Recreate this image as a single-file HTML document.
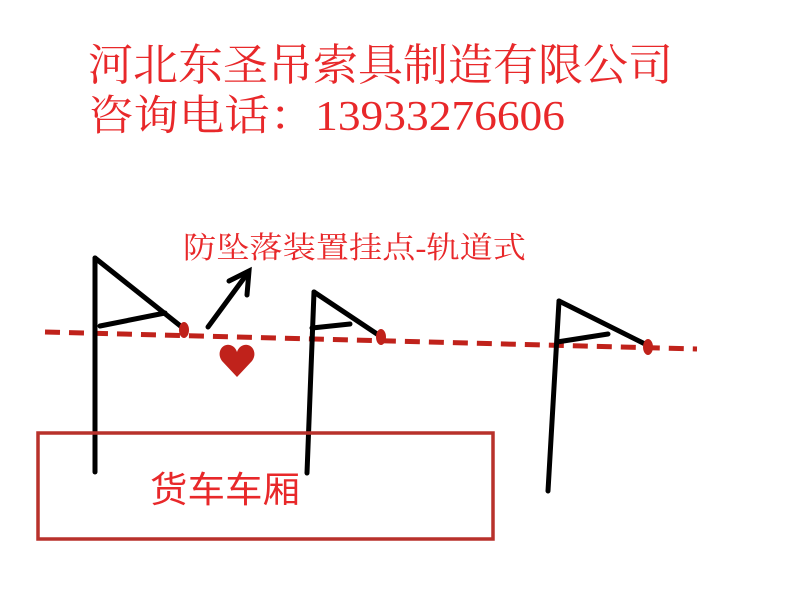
<!DOCTYPE html>
<html><head><meta charset="utf-8"><style>html,body{margin:0;padding:0;background:#fff;}svg{display:block}</style></head>
<body>
<svg width="800" height="600" viewBox="0 0 800 600" xmlns="http://www.w3.org/2000/svg">
<rect width="800" height="600" fill="#fff"/>
<g font-family="'Liberation Serif','Noto Serif CJK SC',serif" fill="#e8282a">
<text x="88" y="80" font-size="44" textLength="585" lengthAdjust="spacingAndGlyphs">河北东圣吊索具制造有限公司</text>
<text x="88" y="130" font-size="42" textLength="477" lengthAdjust="spacingAndGlyphs">咨询电话：13933276606</text>
</g>
<text x="183" y="258" font-family="'Liberation Serif','Noto Serif CJK SC',serif" font-size="30" fill="#e8282a" textLength="343" lengthAdjust="spacingAndGlyphs">防坠落装置挂点-轨道式</text>
<line x1="45" y1="332" x2="697" y2="349" stroke="#c0221b" stroke-width="5" stroke-dasharray="15,9"/>
<g stroke="#000" stroke-width="5" stroke-linecap="round" fill="none">
<line x1="95" y1="258" x2="95" y2="472"/>
<line x1="95" y1="258" x2="183" y2="328"/>
<line x1="100" y1="326" x2="165" y2="313"/>
<line x1="314" y1="292" x2="307" y2="473"/>
<line x1="314" y1="292" x2="380" y2="336"/>
<line x1="312" y1="328" x2="350" y2="324"/>
<line x1="559" y1="301" x2="548" y2="491"/>
<line x1="559" y1="301" x2="647" y2="345"/>
<line x1="557" y1="342" x2="608" y2="334"/>
<line x1="208" y1="327" x2="247" y2="274"/>
<polyline points="229,281 249,271 247,295"/>
</g>
<g fill="#c0221b">
<ellipse cx="184" cy="330" rx="5" ry="8"/>
<ellipse cx="381" cy="337" rx="5" ry="8"/>
<ellipse cx="648" cy="347" rx="5" ry="8"/>
<path d="M237,377 L222,361 C216,353 222,343 230,345 C234,346 236,349 237,352 C238,349 240,346 244,345 C252,343 258,353 252,361 Z"/>
</g>
<rect x="38" y="433" width="455" height="106" fill="none" stroke="#b8312b" stroke-width="3.5"/>
<text x="150" y="502" font-family="'Liberation Sans','Noto Sans CJK SC',sans-serif" font-size="36" fill="#e8282a" textLength="150" lengthAdjust="spacingAndGlyphs">货车车厢</text>
</svg>
</body></html>
